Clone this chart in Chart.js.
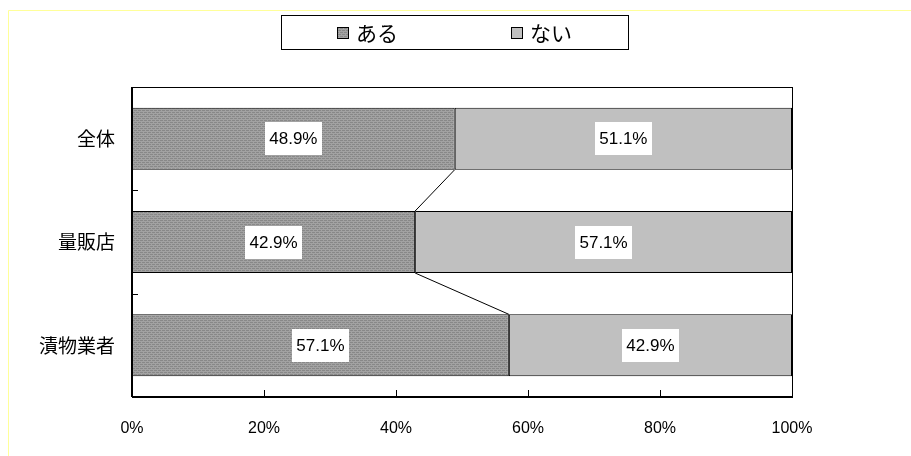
<!DOCTYPE html>
<html>
<head>
<meta charset="utf-8">
<script src="https://cdn.jsdelivr.net/npm/chart.js@4/dist/chart.umd.min.js"></script>
<style>
html,body{margin:0;padding:0;background:#fff;}
canvas{display:block;}
</style>
</head>
<body>
<canvas id="c" width="911" height="456"></canvas>
<script>
const categories = ['全体', '量販店', '漬物業者'];
const seriesNames = ['ある', 'ない'];
const aruValues = [48.9, 42.9, 57.1];
const naiValues = [51.1, 57.1, 42.9];
const xTicks = [0, 20, 40, 60, 80, 100];

function makePattern() {
  const p = document.createElement('canvas');
  p.width = 4; p.height = 4;
  const g = p.getContext('2d');
  g.fillStyle = '#a2a2a2';
  g.fillRect(0, 0, 4, 4);
  g.fillStyle = '#888888';
  for (let y = 0; y < 4; y++) {
    for (let x = 0; x < 4; x++) {
      if ((x + y) % 2 === 0 && (x % 2 === 0)) g.fillRect(x, y, 1, 1);
      if ((x + y) % 4 === 1 && (y % 2 === 0)) g.fillRect(x, y, 1, 1);
    }
  }
  return document.getElementById('c').getContext('2d').createPattern(p, 'repeat');
}
const pattern = makePattern();
const lightGray = '#c0c0c0';
const FONT = '"Liberation Sans", Arial, sans-serif';
const CJK = '"Noto Sans CJK JP", sans-serif';

const decor = {
  id: 'decor',
  beforeDraw(chart) {
    const ctx = chart.ctx;
    ctx.save();
    ctx.fillStyle = '#fff';
    ctx.fillRect(0, 0, chart.width, chart.height);
    ctx.strokeStyle = '#ffff99';
    ctx.lineWidth = 1;
    ctx.beginPath();
    ctx.moveTo(8.5, 456); ctx.lineTo(8.5, 10.5); ctx.lineTo(911, 10.5);
    ctx.stroke();
    ctx.restore();
  },
  afterDatasetsDraw(chart) {
    const ctx = chart.ctx;
    const x = chart.scales.x, y = chart.scales.y;
    const a = chart.chartArea;
    ctx.save();
    ctx.strokeStyle = '#000';
    ctx.lineWidth = 1;
    ctx.strokeRect(Math.round(a.left) + 0.5, Math.round(a.top) + 0.5, Math.round(a.right - a.left), Math.round(a.bottom - a.top));
    ctx.lineWidth = 2;
    ctx.beginPath();
    ctx.moveTo(a.left, a.bottom); ctx.lineTo(a.right, a.bottom);
    ctx.moveTo(a.left, a.top); ctx.lineTo(a.left, a.bottom);
    ctx.stroke();
    ctx.lineWidth = 1;
    ctx.beginPath();
    xTicks.forEach(v => {
      const px = Math.round(x.getPixelForValue(v)) + 0.5;
      ctx.moveTo(px, a.bottom); ctx.lineTo(px, a.bottom - 7);
    });
    for (let i = 0; i < categories.length - 1; i++) {
      const py = Math.round((y.getPixelForValue(i) + y.getPixelForValue(i + 1)) / 2) + 0.5;
      ctx.moveTo(a.left, py); ctx.lineTo(a.left + 6, py);
    }
    ctx.stroke();
    const m0 = chart.getDatasetMeta(0);
    ctx.beginPath();
    for (let i = 0; i < categories.length - 1; i++) {
      const b1 = m0.data[i], b2 = m0.data[i + 1];
      ctx.moveTo(b1.x, b1.y + b1.height / 2);
      ctx.lineTo(b2.x, b2.y - b2.height / 2);
    }
    ctx.stroke();
    ctx.font = '17px ' + FONT;
    ctx.textAlign = 'center';
    ctx.textBaseline = 'middle';
    chart.data.datasets.forEach((ds, di) => {
      const meta = chart.getDatasetMeta(di);
      meta.data.forEach((bar, i) => {
        const cx = (bar.x + bar.base) / 2;
        const cy = bar.y;
        const txt = ds.data[i].toFixed(1) + '%';
        const w = ctx.measureText(txt).width + 9;
        ctx.fillStyle = '#fff';
        ctx.fillRect(Math.round(cx - w / 2), Math.round(cy - 16.5), Math.round(w), 33);
        ctx.fillStyle = '#000';
        ctx.fillText(txt, cx, cy + 1);
      });
    });
    const lx = 281, ly = 15, lw = 347, lh = 34;
    ctx.fillStyle = '#fff';
    ctx.fillRect(lx, ly, lw, lh);
    ctx.strokeStyle = '#000';
    ctx.strokeRect(lx + 0.5, ly + 0.5, lw, lh);
    const items = [{x: 337, fill: pattern, text: seriesNames[0]}, {x: 511, fill: lightGray, text: seriesNames[1]}];
    ctx.font = '21px ' + CJK;
    ctx.textAlign = 'left';
    ctx.textBaseline = 'middle';
    items.forEach(it => {
      ctx.fillStyle = it.fill;
      ctx.fillRect(it.x, 27, 12, 12);
      ctx.strokeRect(it.x + 0.5, 27.5, 11, 11);
      ctx.fillStyle = '#000';
      ctx.fillText(it.text, it.x + 19, 33);
    });
    ctx.restore();
  }
};

new Chart(document.getElementById('c'), {
  type: 'bar',
  data: {
    labels: categories,
    datasets: [
      {label: seriesNames[0], data: aruValues, backgroundColor: pattern, borderColor: '#000', borderWidth: 1, borderSkipped: false, barPercentage: 0.6, categoryPercentage: 1},
      {label: seriesNames[1], data: naiValues, backgroundColor: lightGray, borderColor: '#000', borderWidth: 1, borderSkipped: false, barPercentage: 0.6, categoryPercentage: 1}
    ]
  },
  options: {
    indexAxis: 'y',
    responsive: false,
    animation: false,
    devicePixelRatio: 1,
    layout: {padding: {top: 87, right: 119, left: 0, bottom: 0}},
    plugins: {legend: {display: false}, tooltip: {enabled: false}},
    scales: {
      x: {
        stacked: true, min: 0, max: 100,
        afterBuildTicks(s) { s.ticks = xTicks.map(v => ({value: v})); },
        afterFit(s) { s.height = 59; },
        ticks: {callback: v => v + '%', color: '#000', font: {family: FONT, size: 16}, padding: 22, maxRotation: 0},
        grid: {display: false, drawTicks: false},
        border: {display: false}
      },
      y: {
        stacked: true,
        afterFit(s) { s.width = 132; },
        ticks: {color: '#000', font: {family: CJK, size: 19}, padding: 17},
        grid: {display: false, drawTicks: false},
        border: {display: false}
      }
    }
  },
  plugins: [decor]
});
</script>
</body>
</html>
